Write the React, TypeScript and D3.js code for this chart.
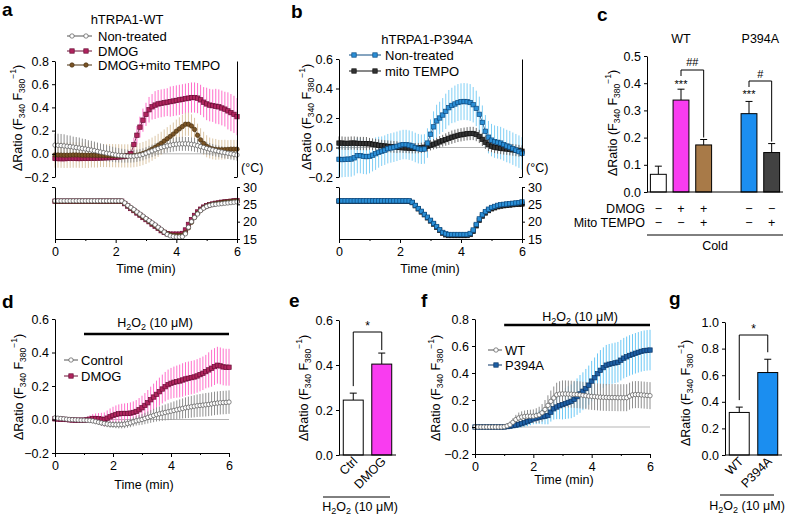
import React, { useEffect, useRef } from "react";
import * as d3 from "d3";

const FONT = "'Liberation Sans', Arial, Helvetica, sans-serif";

// ---------- axis ticks ----------
const TIME_TICKS = [0, 2, 4, 6];
const TIME_MINOR = [1, 3, 5];
const TEMP_TICKS = [15, 20, 25, 30];
const A_TICKS = [-0.2, 0, 0.2, 0.4, 0.6, 0.8];
const B_TICKS = [-0.2, 0, 0.2, 0.4, 0.6];
const C_TICKS = [0, 0.1, 0.2, 0.3, 0.4, 0.5];
const D_TICKS = [-0.2, 0, 0.2, 0.4, 0.6];
const E_TICKS = [0, 0.2, 0.4, 0.6];
const F_TICKS = [-0.2, 0, 0.2, 0.4, 0.6, 0.8];
const G_TICKS = [0, 0.2, 0.4, 0.6, 0.8, 1.0];

// ---------- panel a : hTRPA1-WT, cold (samples every 0.1 min, 0..6) ----------
const aNonTreated = [
  0.075, 0.073, 0.071, 0.068, 0.065, 0.062, 0.058, 0.054, 0.05, 0.046,
  0.042, 0.037, 0.032, 0.027, 0.021, 0.015, 0.01, 0.005, 0.0, -0.005,
  -0.01, -0.013, -0.016, -0.018, -0.02, -0.021, -0.02, -0.017, -0.012, -0.005,
  0.005, 0.015, 0.025, 0.035, 0.045, 0.055, 0.062, 0.068, 0.074, 0.079,
  0.083, 0.085, 0.086, 0.086, 0.085, 0.082, 0.077, 0.07, 0.062, 0.055,
  0.047, 0.04, 0.033, 0.027, 0.021, 0.015, 0.01, 0.005, 0.0, -0.005,
  -0.01,
];
const aNonTreatedErr = [
  0.1, 0.1, 0.1, 0.1, 0.095, 0.095, 0.09, 0.09, 0.09, 0.085,
  0.085, 0.08, 0.08, 0.078, 0.076, 0.074, 0.072, 0.07, 0.068, 0.066,
  0.064, 0.062, 0.06, 0.058, 0.056, 0.055, 0.054, 0.053, 0.052, 0.052,
  0.052, 0.053, 0.054, 0.055, 0.056, 0.057, 0.058, 0.059, 0.06, 0.06,
  0.06, 0.06, 0.06, 0.06, 0.06, 0.06, 0.06, 0.058, 0.056, 0.055,
  0.054, 0.053, 0.052, 0.051, 0.05, 0.05, 0.05, 0.05, 0.05, 0.05,
  0.05,
];
const aDmog = [
  -0.04, -0.041, -0.042, -0.042, -0.04, -0.038, -0.038, -0.04, -0.041, -0.04,
  -0.04, -0.039, -0.038, -0.038, -0.037, -0.036, -0.035, -0.034, -0.033, -0.031,
  -0.029, -0.027, -0.025, -0.023, -0.015, 0.0, 0.08, 0.16, 0.23, 0.29,
  0.34, 0.38, 0.405, 0.42, 0.43, 0.435, 0.44, 0.445, 0.45, 0.455,
  0.46, 0.465, 0.47, 0.475, 0.48, 0.485, 0.485, 0.48, 0.465, 0.445,
  0.43, 0.42, 0.415, 0.41, 0.405, 0.395, 0.385, 0.37, 0.355, 0.34,
  0.32,
];
const aDmogErr = [
  0.03, 0.03, 0.03, 0.03, 0.03, 0.03, 0.03, 0.03, 0.03, 0.03,
  0.03, 0.03, 0.03, 0.03, 0.03, 0.03, 0.03, 0.03, 0.03, 0.03,
  0.03, 0.03, 0.03, 0.03, 0.03, 0.04, 0.06, 0.08, 0.09, 0.1,
  0.1, 0.11, 0.11, 0.12, 0.12, 0.12, 0.12, 0.12, 0.13, 0.13,
  0.13, 0.13, 0.13, 0.13, 0.13, 0.13, 0.13, 0.13, 0.13, 0.13,
  0.14, 0.14, 0.14, 0.15, 0.15, 0.15, 0.15, 0.16, 0.16, 0.16,
  0.16,
];
const aDmogMito = [
  -0.01, -0.01, -0.011, -0.012, -0.012, -0.011, -0.01, -0.01, -0.011, -0.012,
  -0.012, -0.012, -0.013, -0.013, -0.014, -0.014, -0.015, -0.015, -0.016, -0.016,
  -0.017, -0.017, -0.018, -0.018, -0.018, -0.018, -0.016, -0.012, -0.006, 0.002,
  0.012, 0.025, 0.04, 0.055, 0.072, 0.09, 0.11, 0.13, 0.15, 0.17,
  0.195, 0.215, 0.235, 0.255, 0.255, 0.24, 0.21, 0.16, 0.12, 0.09,
  0.065, 0.05, 0.042, 0.038, 0.035, 0.035, 0.036, 0.038, 0.04, 0.04,
  0.04,
];
const aDmogMitoErr = [
  0.11, 0.11, 0.11, 0.11, 0.11, 0.11, 0.11, 0.11, 0.11, 0.11,
  0.11, 0.11, 0.105, 0.105, 0.105, 0.1, 0.1, 0.1, 0.1, 0.1,
  0.1, 0.1, 0.1, 0.1, 0.1, 0.1, 0.1, 0.1, 0.1, 0.1,
  0.1, 0.1, 0.1, 0.1, 0.1, 0.1, 0.1, 0.1, 0.1, 0.1,
  0.1, 0.1, 0.1, 0.1, 0.1, 0.1, 0.1, 0.1, 0.1, 0.1,
  0.095, 0.09, 0.09, 0.09, 0.085, 0.085, 0.085, 0.08, 0.08, 0.08,
  0.08,
];
const aTempNonTreated = [
  26.0, 26.0, 26.0, 26.0, 26.0, 26.0, 26.0, 26.0, 26.0, 26.0,
  26.0, 26.0, 26.0, 26.0, 26.0, 26.0, 26.0, 26.0, 26.0, 26.0,
  26.0, 26.0, 26.0, 25.4, 24.7, 24.1, 23.5, 22.8, 22.2, 21.6,
  20.9, 20.3, 19.7, 19.1, 18.4, 17.8, 17.0, 16.3, 15.9, 15.7,
  15.6, 15.6, 15.7, 16.5, 18.4, 20.0, 21.2, 22.2, 23.2, 23.9,
  24.4, 24.7, 24.9, 25.0, 25.1, 25.2, 25.3, 25.4, 25.5, 25.6,
  25.7,
];
const aTempDmog = [
  25.9, 25.9, 25.9, 25.9, 25.9, 25.9, 25.9, 25.9, 25.9, 25.9,
  25.9, 25.9, 25.9, 25.9, 25.9, 25.9, 25.9, 25.9, 25.9, 25.9,
  25.9, 25.9, 25.9, 25.2, 24.5, 23.8, 23.2, 22.5, 21.9, 21.2,
  20.6, 20.0, 19.3, 18.7, 18.1, 17.4, 16.9, 16.5, 16.4, 16.4,
  16.4, 16.4, 16.6, 17.6, 19.2, 20.6, 21.8, 22.8, 23.6, 24.2,
  24.6, 24.9, 25.1, 25.3, 25.4, 25.6, 25.7, 25.8, 25.9, 26.0,
  26.1,
];
const aTempDmogMito = [
  25.9, 25.9, 25.9, 25.9, 25.9, 25.9, 25.9, 25.9, 25.9, 25.9,
  25.9, 25.9, 25.9, 25.9, 25.9, 25.9, 25.9, 25.9, 25.9, 25.9,
  25.9, 25.9, 25.9, 25.3, 24.6, 24.0, 23.3, 22.7, 22.0, 21.4,
  20.8, 20.1, 19.5, 18.9, 18.2, 17.6, 17.0, 16.5, 16.2, 16.0,
  16.0, 16.0, 16.1, 16.8, 18.2, 19.8, 21.2, 22.4, 23.3, 24.0,
  24.5, 24.8, 25.0, 25.2, 25.3, 25.5, 25.6, 25.7, 25.8, 25.9,
  26.0,
];

// ---------- panel b : hTRPA1-P394A, cold ----------
const bNonTreated = [
  -0.08, -0.082, -0.08, -0.079, -0.078, -0.07, -0.055, -0.055, -0.06, -0.062,
  -0.06, -0.052, -0.042, -0.032, -0.025, -0.018, -0.008, -0.003, 0.002, 0.008,
  0.015, 0.02, 0.02, 0.016, 0.01, 0.0, -0.008, -0.012, -0.01, 0.03,
  0.09, 0.14, 0.18, 0.2, 0.22, 0.245, 0.27, 0.285, 0.295, 0.305,
  0.31, 0.312, 0.31, 0.305, 0.29, 0.265, 0.225, 0.17, 0.11, 0.07,
  0.05, 0.04, 0.035, 0.03, 0.02, 0.01, 0.003, -0.008, -0.018, -0.028,
  -0.04,
];
const bNonTreatedErr = [
  0.12, 0.12, 0.12, 0.12, 0.12, 0.12, 0.12, 0.12, 0.12, 0.12,
  0.115, 0.11, 0.11, 0.105, 0.1, 0.1, 0.1, 0.1, 0.1, 0.1,
  0.1, 0.1, 0.1, 0.1, 0.1, 0.1, 0.1, 0.1, 0.1, 0.1,
  0.1, 0.105, 0.11, 0.11, 0.115, 0.12, 0.12, 0.12, 0.125, 0.125,
  0.125, 0.125, 0.125, 0.125, 0.12, 0.12, 0.12, 0.115, 0.11, 0.11,
  0.11, 0.11, 0.11, 0.11, 0.11, 0.11, 0.11, 0.11, 0.11, 0.11,
  0.11,
];
const bMito = [
  0.03, 0.03, 0.028, 0.028, 0.03, 0.03, 0.028, 0.027, 0.027, 0.026,
  0.025, 0.022, 0.018, 0.015, 0.012, 0.01, 0.008, 0.006, 0.004, 0.002,
  0.0, -0.002, -0.003, -0.004, -0.005, -0.005, -0.004, -0.002, 0.002, 0.008,
  0.015, 0.022, 0.03, 0.038, 0.046, 0.054, 0.062, 0.07, 0.076, 0.082,
  0.086, 0.09, 0.093, 0.095, 0.095, 0.088, 0.075, 0.055, 0.035, 0.02,
  0.008, 0.002, -0.002, -0.005, -0.008, -0.01, -0.013, -0.016, -0.019, -0.022,
  -0.025,
];
const bMitoErr = [
  0.045, 0.045, 0.045, 0.045, 0.045, 0.045, 0.045, 0.045, 0.045, 0.045,
  0.04, 0.04, 0.04, 0.04, 0.04, 0.04, 0.04, 0.04, 0.04, 0.04,
  0.035, 0.035, 0.035, 0.035, 0.035, 0.035, 0.035, 0.035, 0.035, 0.035,
  0.035, 0.035, 0.038, 0.04, 0.04, 0.042, 0.044, 0.045, 0.045, 0.045,
  0.045, 0.045, 0.045, 0.045, 0.045, 0.045, 0.045, 0.045, 0.045, 0.045,
  0.04, 0.04, 0.04, 0.04, 0.04, 0.04, 0.04, 0.04, 0.04, 0.04,
  0.04,
];
const bTempNonTreated = [
  26.0, 26.0, 26.0, 26.0, 26.0, 26.0, 26.0, 26.0, 26.0, 26.0,
  26.0, 26.0, 26.0, 26.0, 26.0, 26.0, 26.0, 26.0, 26.0, 26.0,
  26.0, 26.0, 26.0, 26.0, 25.6, 24.7, 23.8, 23.0, 22.1, 21.3,
  20.4, 19.5, 18.6, 17.7, 16.9, 16.5, 16.3, 16.3, 16.3, 16.3,
  16.3, 16.3, 16.3, 16.6, 17.6, 19.2, 20.8, 22.0, 22.9, 23.6,
  24.1, 24.4, 24.7, 24.9, 25.0, 25.1, 25.2, 25.3, 25.4, 25.5,
  25.7,
];
const bTempMito = [
  25.9, 25.9, 25.9, 25.9, 25.9, 25.9, 25.9, 25.9, 25.9, 25.9,
  25.9, 25.9, 25.9, 25.9, 25.9, 25.9, 25.9, 25.9, 25.9, 25.9,
  25.9, 25.9, 25.9, 25.9, 25.5, 24.6, 23.7, 22.8, 22.0, 21.1,
  20.2, 19.3, 18.4, 17.5, 16.7, 16.2, 16.0, 16.0, 16.0, 16.0,
  16.0, 16.0, 16.0, 16.3, 17.2, 18.8, 20.4, 21.6, 22.5, 23.2,
  23.7, 24.0, 24.3, 24.5, 24.6, 24.7, 24.8, 24.9, 25.0, 25.0,
  25.1,
];

// ---------- panel c : cold responses ----------
const cSlots = ["wt-ctrl", "wt-dmog", "wt-dmog-mito", "gap", "p-ctrl", "p-mito"];
const cCats = ["wt-ctrl", "wt-dmog", "wt-dmog-mito", "p-ctrl", "p-mito"];
const cMeans = [0.065, 0.338, 0.173, 0.288, 0.145];
const cErrs = [0.03, 0.04, 0.02, 0.045, 0.033];
const cColors = ["#ffffff", "#f93cf0", "#a87a48", "#1b8ef0", "#424242"];
const cDmogRow = ["−", "+", "+", "−", "−"];
const cMitoRow = ["−", "−", "+", "−", "+"];

// ---------- panel d : H2O2, WT ----------
const dControl = [
  0.01, 0.008, 0.006, 0.004, 0.002, 0.0, -0.001, -0.002, -0.003, -0.004,
  -0.004, -0.005, -0.006, -0.008, -0.012, -0.016, -0.02, -0.024, -0.027, -0.029,
  -0.03, -0.031, -0.031, -0.03, -0.028, -0.024, -0.02, -0.014, -0.008, -0.004,
  0.0, 0.006, 0.012, 0.018, 0.024, 0.03, 0.034, 0.038, 0.042, 0.046,
  0.05, 0.054, 0.058, 0.062, 0.066, 0.07, 0.073, 0.076, 0.079, 0.082,
  0.084, 0.086, 0.088, 0.09, 0.093, 0.096, 0.098, 0.1, 0.101, 0.102,
  0.104,
];
const dControlErr = [
  0.012, 0.012, 0.012, 0.012, 0.012, 0.012, 0.012, 0.012, 0.012, 0.012,
  0.012, 0.013, 0.014, 0.015, 0.016, 0.017, 0.018, 0.018, 0.019, 0.02,
  0.02, 0.021, 0.022, 0.023, 0.024, 0.025, 0.026, 0.027, 0.028, 0.03,
  0.032, 0.034, 0.036, 0.038, 0.04, 0.042, 0.044, 0.046, 0.048, 0.05,
  0.052, 0.054, 0.056, 0.058, 0.06, 0.062, 0.064, 0.065, 0.066, 0.067,
  0.068, 0.069, 0.07, 0.07, 0.07, 0.07, 0.07, 0.07, 0.07, 0.07,
  0.07,
];
const dDmog = [
  0.004, 0.003, 0.002, 0.001, 0.0, -0.002, -0.003, -0.004, -0.004, -0.004,
  -0.004, -0.002, 0.002, 0.006, 0.006, 0.004, 0.002, 0.0, 0.008, 0.016,
  0.024, 0.03, 0.034, 0.036, 0.036, 0.036, 0.038, 0.042, 0.048, 0.058,
  0.07, 0.084, 0.1, 0.118, 0.134, 0.15, 0.166, 0.182, 0.196, 0.208,
  0.216, 0.222, 0.226, 0.23, 0.236, 0.242, 0.246, 0.25, 0.254, 0.26,
  0.268, 0.276, 0.286, 0.296, 0.306, 0.316, 0.324, 0.32, 0.314, 0.312,
  0.312,
];
const dDmogErr = [
  0.015, 0.015, 0.015, 0.015, 0.015, 0.015, 0.015, 0.015, 0.015, 0.015,
  0.015, 0.018, 0.022, 0.026, 0.03, 0.034, 0.038, 0.042, 0.046, 0.05,
  0.052, 0.054, 0.056, 0.058, 0.06, 0.062, 0.064, 0.066, 0.068, 0.07,
  0.072, 0.074, 0.076, 0.078, 0.08, 0.082, 0.084, 0.086, 0.088, 0.09,
  0.092, 0.094, 0.096, 0.098, 0.1, 0.1, 0.1, 0.1, 0.1, 0.1,
  0.1, 0.1, 0.1, 0.105, 0.11, 0.11, 0.11, 0.11, 0.11, 0.11,
  0.11,
];

// ---------- panel e ----------
const eCats = ["Ctrl", "DMOG"];
const eMeans = [0.244, 0.404];
const eErrs = [0.031, 0.049];
const eColors = ["#ffffff", "#f93cf0"];

// ---------- panel f : H2O2, WT vs P394A ----------
const fWt = [
  0, 0, 0, 0, 0, 0, 0, 0, 0, 0,
  0.002, 0.008, 0.017, 0.035, 0.055, 0.067, 0.074, 0.078, 0.08, 0.08,
  0.08, 0.084, 0.09, 0.105, 0.13, 0.16, 0.19, 0.215, 0.238, 0.244,
  0.245, 0.245, 0.244, 0.243, 0.242, 0.24, 0.238, 0.235, 0.232, 0.229,
  0.227, 0.225, 0.223, 0.221, 0.22, 0.219, 0.218, 0.218, 0.218, 0.217,
  0.217, 0.217, 0.217, 0.228, 0.238, 0.24, 0.24, 0.238, 0.236, 0.234,
  0.232,
];
const fWtErr = [
  0.015, 0.015, 0.015, 0.015, 0.015, 0.015, 0.015, 0.015, 0.015, 0.015,
  0.016, 0.02, 0.025, 0.03, 0.035, 0.04, 0.042, 0.044, 0.046, 0.048,
  0.05, 0.055, 0.06, 0.065, 0.07, 0.075, 0.08, 0.085, 0.09, 0.095,
  0.1, 0.1, 0.1, 0.1, 0.1, 0.1, 0.1, 0.1, 0.1, 0.1,
  0.1, 0.1, 0.1, 0.1, 0.1, 0.1, 0.1, 0.1, 0.1, 0.1,
  0.1, 0.1, 0.1, 0.1, 0.1, 0.1, 0.1, 0.1, 0.1, 0.1,
  0.1,
];
const fP394A = [
  0, 0, 0, 0, 0, 0, 0, 0, 0, 0,
  0.0, 0.003, 0.006, 0.01, 0.014, 0.018, 0.025, 0.032, 0.04, 0.05,
  0.06, 0.066, 0.072, 0.076, 0.08, 0.085, 0.11, 0.135, 0.148, 0.158,
  0.166, 0.174, 0.182, 0.19, 0.205, 0.225, 0.245, 0.265, 0.285, 0.31,
  0.34, 0.365, 0.395, 0.42, 0.44, 0.458, 0.465, 0.47, 0.475, 0.48,
  0.495, 0.51, 0.52, 0.53, 0.538, 0.546, 0.553, 0.56, 0.565, 0.568,
  0.57,
];
const fP394AErr = [
  0.015, 0.015, 0.015, 0.015, 0.015, 0.015, 0.015, 0.015, 0.015, 0.015,
  0.015, 0.016, 0.018, 0.02, 0.022, 0.025, 0.028, 0.031, 0.034, 0.037,
  0.04, 0.045, 0.05, 0.055, 0.06, 0.065, 0.07, 0.08, 0.09, 0.1,
  0.11, 0.115, 0.12, 0.125, 0.13, 0.135, 0.14, 0.14, 0.145, 0.145,
  0.15, 0.15, 0.15, 0.15, 0.15, 0.15, 0.15, 0.15, 0.15, 0.15,
  0.15, 0.15, 0.15, 0.15, 0.15, 0.15, 0.15, 0.15, 0.15, 0.15,
  0.15,
];

// ---------- panel g ----------
const gCats = ["WT", "P394A"];
const gMeans = [0.32, 0.62];
const gErrs = [0.04, 0.1];
const gColors = ["#ffffff", "#1b8ef0"];

// ---------- trace styles ----------
const ST_WHITE = { shape: "circle", fill: "#ffffff", stroke: "#555555", err: "#8f8f8f" };
const ST_PINK = { shape: "square", fill: "#b0245e", stroke: "#6a0e35", err: "#ff6fca" };
const ST_BROWN = { shape: "circle", fill: "#7a5426", stroke: "#4a3010", err: "#dcc6a6" };
const ST_BLUE = { shape: "square", fill: "#2b8fd6", stroke: "#0c4a80", err: "#80cff5" };
const ST_BLACK = { shape: "square", fill: "#333333", stroke: "#111111", err: "#6a6a6a" };
const ST_DBLUE = { shape: "square", fill: "#1d5fa5", stroke: "#0b3566", err: "#6cc8f5" };

const TXT = 12.5; // general label size
const LEG = 13; // legend / title size

const toPoints = (values: number[], errors?: number[]) =>
  values.map((v, i) => ({ t: (i * 6) / (values.length - 1), v, e: errors ? errors[i] : 0 }));

function drawErrors(g: any, x: any, y: any, values: number[], errors: number[], st: any) {
  g.append("g")
    .selectAll("line")
    .data(toPoints(values, errors))
    .join("line")
    .attr("x1", (d: any) => x(d.t))
    .attr("x2", (d: any) => x(d.t))
    .attr("y1", (d: any) => y(d.v - d.e))
    .attr("y2", (d: any) => y(d.v + d.e))
    .attr("stroke", st.err)
    .attr("stroke-width", 1);
}

function marker(g: any, cx: number, cy: number, st: any) {
  if (st.shape === "circle") {
    g.append("circle").attr("cx", cx).attr("cy", cy).attr("r", 2.2)
      .attr("fill", st.fill).attr("stroke", st.stroke).attr("stroke-width", 0.7);
  } else {
    g.append("rect").attr("x", cx - 2.2).attr("y", cy - 2.2).attr("width", 4.4).attr("height", 4.4)
      .attr("fill", st.fill).attr("stroke", st.stroke).attr("stroke-width", 0.7);
  }
}

function drawTrace(g: any, x: any, y: any, values: number[], st: any) {
  const pts = toPoints(values);
  g.append("path")
    .datum(pts)
    .attr("d", d3.line<any>().x((d) => x(d.t)).y((d) => y(d.v)))
    .attr("fill", "none")
    .attr("stroke", st.stroke)
    .attr("stroke-width", 0.8);
  const mg = g.append("g");
  pts.forEach((d) => marker(mg, x(d.t), y(d.v), st));
}

function styleAxis(a: any, size = TXT) {
  a.attr("font-size", size).attr("font-family", FONT);
  a.selectAll("line").attr("stroke", "#000");
  a.select(".domain").attr("stroke", "#000");
}

function leftAxis(g: any, y: any, xPos: number, ticks: number[]) {
  const a = g.append("g").attr("transform", `translate(${xPos},0)`)
    .call(d3.axisLeft(y).tickValues(ticks).tickFormat(d3.format(".1f")).tickSize(3).tickPadding(3).tickSizeOuter(0));
  styleAxis(a);
}

function timeAxis(g: any, x: any, yPos: number) {
  const a = g.append("g").attr("transform", `translate(0,${yPos})`)
    .call(d3.axisBottom(x).tickValues(TIME_TICKS).tickFormat(d3.format("d")).tickSize(4).tickPadding(4).tickSizeOuter(0));
  styleAxis(a);
  const m = g.append("g").attr("transform", `translate(0,${yPos})`)
    .call(d3.axisBottom(x).tickValues(TIME_MINOR).tickFormat(() => "").tickSize(2).tickSizeOuter(0));
  m.select(".domain").remove();
  m.selectAll("line").attr("stroke", "#000");
}

function text(g: any, x: number, y: number, s: string, size = TXT, anchor = "start", weight = "normal") {
  return g.append("text").attr("x", x).attr("y", y).attr("font-size", size)
    .attr("text-anchor", anchor).attr("font-weight", weight).attr("fill", "#000").text(s);
}

function yLabel(g: any, x: number, y: number) {
  const t = g.append("text").attr("transform", `translate(${x},${y}) rotate(-90)`)
    .attr("text-anchor", "middle").attr("font-size", 12.5).attr("fill", "#000");
  t.append("tspan").text("ΔRatio (F");
  t.append("tspan").attr("dy", 3).attr("font-size", 8.5).text("340");
  t.append("tspan").attr("dy", -3).text(" F");
  t.append("tspan").attr("dy", 3).attr("font-size", 8.5).text("380");
  t.append("tspan").attr("dy", -9).attr("font-size", 8.5).text("−1");
  t.append("tspan").attr("dy", 6).text(")");
}

function h2o2(g: any, x: number, y: number) {
  const t = g.append("text").attr("x", x).attr("y", y).attr("text-anchor", "middle")
    .attr("font-size", TXT).attr("fill", "#000");
  t.append("tspan").text("H");
  t.append("tspan").attr("dy", 3).attr("font-size", 9).text("2");
  t.append("tspan").attr("dy", -3).text("O");
  t.append("tspan").attr("dy", 3).attr("font-size", 9).text("2");
  t.append("tspan").attr("dy", -3).text(" (10 μM)");
}

function legendRow(g: any, x1: number, x2: number, marks: number[], y: number, st: any, label: string, tx: number) {
  g.append("line").attr("x1", x1).attr("x2", x2).attr("y1", y).attr("y2", y)
    .attr("stroke", st.stroke).attr("stroke-width", 1);
  marks.forEach((mx) => marker(g, mx, y, st));
  text(g, tx, y + 4.6, label, LEG);
}

function zeroLine(g: any, x: any, y: any) {
  g.append("line").attr("x1", x(0)).attr("x2", x(6)).attr("y1", y(0)).attr("y2", y(0))
    .attr("stroke", "#b5b5b5").attr("stroke-width", 1);
}

function barPanel(g: any, xb: any, y: any, cats: string[], means: number[], errs: number[], colors: string[]) {
  cats.forEach((c, i) => {
    const cx = xb(c) + xb.bandwidth() / 2;
    g.append("line").attr("x1", cx).attr("x2", cx).attr("y1", y(means[i])).attr("y2", y(means[i] + errs[i]))
      .attr("stroke", "#000").attr("stroke-width", 1);
    g.append("line").attr("x1", cx - 3.5).attr("x2", cx + 3.5)
      .attr("y1", y(means[i] + errs[i])).attr("y2", y(means[i] + errs[i]))
      .attr("stroke", "#000").attr("stroke-width", 1);
    g.append("rect").attr("x", xb(c)).attr("y", y(means[i])).attr("width", xb.bandwidth())
      .attr("height", y(0) - y(means[i])).attr("fill", colors[i]).attr("stroke", "#000").attr("stroke-width", 1);
  });
  const [r0, r1] = xb.range();
  g.append("line").attr("x1", r0).attr("x2", r1).attr("y1", y(0)).attr("y2", y(0))
    .attr("stroke", "#000").attr("stroke-width", 1);
}

function bracket(g: any, x1: number, x2: number, yTop: number, y1: number, y2: number) {
  g.append("path").attr("d", `M${x1},${y1}V${yTop}H${x2}V${y2}`)
    .attr("fill", "none").attr("stroke", "#000").attr("stroke-width", 1);
}

export default function App() {
  const ref = useRef<SVGSVGElement>(null);

  useEffect(() => {
    const svg = d3.select(ref.current);
    svg.selectAll("*").remove();

    // ================= panel a =================
    {
      const g = svg.append("g");
      const x = d3.scaleLinear().domain([0, 6]).range([55, 237]);
      const y = d3.scaleLinear().domain([-0.2, 0.8]).range([177, 61]);
      const yt = d3.scaleLinear().domain([15, 30]).range([239, 187]);
      zeroLine(g, x, y);
      drawErrors(g, x, y, aDmog, aDmogErr, ST_PINK);
      drawErrors(g, x, y, aDmogMito, aDmogMitoErr, ST_BROWN);
      drawErrors(g, x, y, aNonTreated, aNonTreatedErr, ST_WHITE);
      drawTrace(g, x, y, aDmog, ST_PINK);
      drawTrace(g, x, y, aDmogMito, ST_BROWN);
      drawTrace(g, x, y, aNonTreated, ST_WHITE);
      leftAxis(g, y, 55, A_TICKS);
      const r = g.append("g").attr("transform", "translate(237,0)")
        .call(d3.axisRight(y).tickValues([-0.2]).tickFormat(() => "").tickSize(-3).tickSizeOuter(0));
      styleAxis(r);
      drawTrace(g, x, yt, aTempDmog, ST_PINK);
      drawTrace(g, x, yt, aTempDmogMito, ST_BROWN);
      drawTrace(g, x, yt, aTempNonTreated, ST_WHITE);
      const tl = g.append("g").attr("transform", "translate(55,0)")
        .call(d3.axisLeft(yt).tickValues([30]).tickFormat(() => "").tickSize(3).tickSizeOuter(0));
      styleAxis(tl);
      const tr = g.append("g").attr("transform", "translate(237,0)")
        .call(d3.axisRight(yt).tickValues(TEMP_TICKS).tickFormat(d3.format("d")).tickSize(3).tickPadding(3).tickSizeOuter(0));
      styleAxis(tr);
      timeAxis(g, x, 239);
      text(g, 241, 172, "(°C)", TXT);
      text(g, 146, 273, "Time (min)", TXT, "middle");
      yLabel(g, 22, 118);
      text(g, 127, 24, "hTRPA1-WT", LEG, "middle");
      legendRow(g, 67, 92, [72, 86], 36, ST_WHITE, "Non-treated", 98);
      legendRow(g, 67, 92, [72, 86], 51, ST_PINK, "DMOG", 98);
      legendRow(g, 67, 92, [72, 86], 65, ST_BROWN, "DMOG+mito TEMPO", 98);
      text(g, 2, 16, "a", 19, "start", "bold");
    }

    // ================= panel b =================
    {
      const g = svg.append("g");
      const x = d3.scaleLinear().domain([0, 6]).range([339, 522]);
      const y = d3.scaleLinear().domain([-0.2, 0.6]).range([177, 59]);
      const yt = d3.scaleLinear().domain([15, 30]).range([239, 187]);
      zeroLine(g, x, y);
      drawErrors(g, x, y, bNonTreated, bNonTreatedErr, ST_BLUE);
      drawErrors(g, x, y, bMito, bMitoErr, ST_BLACK);
      drawTrace(g, x, y, bMito, ST_BLACK);
      drawTrace(g, x, y, bNonTreated, ST_BLUE);
      leftAxis(g, y, 339, B_TICKS);
      const r = g.append("g").attr("transform", "translate(522,0)")
        .call(d3.axisRight(y).tickValues([-0.2]).tickFormat(() => "").tickSize(-3).tickSizeOuter(0));
      styleAxis(r);
      drawTrace(g, x, yt, bTempMito, ST_BLACK);
      drawTrace(g, x, yt, bTempNonTreated, ST_BLUE);
      const tl = g.append("g").attr("transform", "translate(339,0)")
        .call(d3.axisLeft(yt).tickValues([30]).tickFormat(() => "").tickSize(3).tickSizeOuter(0));
      styleAxis(tl);
      const tr = g.append("g").attr("transform", "translate(522,0)")
        .call(d3.axisRight(yt).tickValues(TEMP_TICKS).tickFormat(d3.format("d")).tickSize(3).tickPadding(3).tickSizeOuter(0));
      styleAxis(tr);
      timeAxis(g, x, 239);
      text(g, 526, 172, "(°C)", TXT);
      text(g, 430, 273, "Time (min)", TXT, "middle");
      yLabel(g, 311, 117);
      text(g, 427, 44, "hTRPA1-P394A", LEG, "middle");
      legendRow(g, 349, 381, [354, 375], 55, ST_BLUE, "Non-treated", 385);
      legendRow(g, 349, 381, [354, 375], 71, ST_BLACK, "mito TEMPO", 385);
      text(g, 291, 18, "b", 19, "start", "bold");
    }

    // ================= panel c =================
    {
      const g = svg.append("g");
      const xb = d3.scaleBand().domain(cSlots).range([647, 783]).paddingInner(0.3).paddingOuter(0.15);
      const y = d3.scaleLinear().domain([0, 0.5]).range([192, 56]);
      barPanel(g, xb, y, cCats, cMeans, cErrs, cColors);
      leftAxis(g, y, 647, C_TICKS);
      const cx = (c: string) => (xb(c) as number) + xb.bandwidth() / 2;
      cCats.forEach((c, i) => {
        text(g, cx(c), 213, cDmogRow[i], TXT, "middle");
        text(g, cx(c), 227, cMitoRow[i], TXT, "middle");
      });
      text(g, 645, 213, "DMOG", TXT, "end");
      text(g, 645, 227, "Mito TEMPO", TXT, "end");
      g.append("line").attr("x1", 647).attr("x2", 783).attr("y1", 235).attr("y2", 235)
        .attr("stroke", "#000").attr("stroke-width", 1);
      text(g, 715, 250, "Cold", TXT, "middle");
      text(g, cx("wt-dmog"), 43, "WT", TXT, "middle");
      text(g, (cx("p-ctrl") + cx("p-mito")) / 2, 43, "P394A", TXT, "middle");
      // significance marks
      text(g, cx("wt-dmog"), 88, "***", 11, "middle");
      text(g, cx("p-ctrl"), 98, "***", 11, "middle");
      bracket(g, cx("wt-dmog"), cx("wt-dmog-mito"), 70, 76, y(cMeans[2] + cErrs[2]) - 2);
      text(g, (cx("wt-dmog") + cx("wt-dmog-mito")) / 2, 66, "##", 11, "middle");
      bracket(g, cx("p-ctrl"), cx("p-mito"), 81, 87, y(cMeans[4] + cErrs[4]) - 2);
      text(g, (cx("p-ctrl") + cx("p-mito")) / 2, 78, "#", 11, "middle");
      yLabel(g, 617, 123);
      text(g, 597, 21, "c", 19, "start", "bold");
    }

    // ================= panel d =================
    {
      const g = svg.append("g");
      const x = d3.scaleLinear().domain([0, 6]).range([55, 229]);
      const y = d3.scaleLinear().domain([-0.2, 0.6]).range([453, 319]);
      zeroLine(g, x, y);
      drawErrors(g, x, y, dDmog, dDmogErr, ST_PINK);
      drawErrors(g, x, y, dControl, dControlErr, ST_WHITE);
      drawTrace(g, x, y, dDmog, ST_PINK);
      drawTrace(g, x, y, dControl, ST_WHITE);
      leftAxis(g, y, 55, D_TICKS);
      timeAxis(g, x, 453);
      g.append("line").attr("x1", x(1)).attr("x2", x(6)).attr("y1", 334).attr("y2", 334)
        .attr("stroke", "#000").attr("stroke-width", 2.5);
      h2o2(g, 155, 327);
      legendRow(g, 64, 78, [71], 360, ST_WHITE, "Control", 81);
      legendRow(g, 64, 78, [71], 376, ST_PINK, "DMOG", 81);
      text(g, 144, 489, "Time (min)", TXT, "middle");
      yLabel(g, 23, 387);
      text(g, 2, 308, "d", 19, "start", "bold");
    }

    // ================= panel e =================
    {
      const g = svg.append("g");
      const xb = d3.scaleBand().domain(eCats).range([339, 396]).paddingInner(0.3).paddingOuter(0.15);
      const y = d3.scaleLinear().domain([0, 0.6]).range([455, 320]);
      barPanel(g, xb, y, eCats, eMeans, eErrs, eColors);
      leftAxis(g, y, 339, E_TICKS);
      const cx = (c: string) => (xb(c) as number) + xb.bandwidth() / 2;
      eCats.forEach((c) => {
        g.append("text").attr("transform", `translate(${cx(c) + 5},462) rotate(-45)`)
          .attr("text-anchor", "end").attr("font-size", TXT).attr("fill", "#000").text(c);
      });
      bracket(g, cx("Ctrl"), cx("DMOG"), 332, y(eMeans[0] + eErrs[0]) - 7, y(eMeans[1] + eErrs[1]) - 3);
      text(g, (cx("Ctrl") + cx("DMOG")) / 2, 330, "*", 12, "middle");
      g.append("line").attr("x1", 323).attr("x2", 390).attr("y1", 497).attr("y2", 497)
        .attr("stroke", "#000").attr("stroke-width", 1);
      h2o2(g, 360, 511);
      yLabel(g, 308, 388);
      text(g, 289, 307, "e", 19, "start", "bold");
    }

    // ================= panel f =================
    {
      const g = svg.append("g");
      const x = d3.scaleLinear().domain([0, 6]).range([475, 650]);
      const y = d3.scaleLinear().domain([-0.2, 0.8]).range([454, 319]);
      zeroLine(g, x, y);
      drawErrors(g, x, y, fP394A, fP394AErr, ST_DBLUE);
      drawErrors(g, x, y, fWt, fWtErr, ST_WHITE);
      drawTrace(g, x, y, fP394A, ST_DBLUE);
      drawTrace(g, x, y, fWt, ST_WHITE);
      leftAxis(g, y, 475, F_TICKS);
      timeAxis(g, x, 454);
      g.append("line").attr("x1", x(1)).attr("x2", x(6)).attr("y1", 325).attr("y2", 325)
        .attr("stroke", "#000").attr("stroke-width", 2.5);
      h2o2(g, 580, 321);
      legendRow(g, 488, 502, [496], 350, ST_WHITE, "WT", 505);
      legendRow(g, 488, 502, [496], 365, ST_DBLUE, "P394A", 505);
      text(g, 564, 484, "Time (min)", TXT, "middle");
      yLabel(g, 440, 388);
      text(g, 421, 307, "f", 19, "start", "bold");
    }

    // ================= panel g =================
    {
      const g = svg.append("g");
      const xb = d3.scaleBand().domain(gCats).range([725, 782]).paddingInner(0.3).paddingOuter(0.15);
      const y = d3.scaleLinear().domain([0, 1]).range([455, 322]);
      barPanel(g, xb, y, gCats, gMeans, gErrs, gColors);
      leftAxis(g, y, 725, G_TICKS);
      const cx = (c: string) => (xb(c) as number) + xb.bandwidth() / 2;
      gCats.forEach((c) => {
        g.append("text").attr("transform", `translate(${cx(c) + 5},462) rotate(-45)`)
          .attr("text-anchor", "end").attr("font-size", TXT).attr("fill", "#000").text(c);
      });
      bracket(g, cx("WT"), cx("P394A"), 335, y(gMeans[0] + gErrs[0]) - 7, y(gMeans[1] + gErrs[1]) - 7);
      text(g, (cx("WT") + cx("P394A")) / 2, 333, "*", 12, "middle");
      g.append("line").attr("x1", 720).attr("x2", 774).attr("y1", 495).attr("y2", 495)
        .attr("stroke", "#000").attr("stroke-width", 1);
      h2o2(g, 747, 510);
      yLabel(g, 690, 393);
      text(g, 669, 305, "g", 19, "start", "bold");
    }
  }, []);

  return (
    <svg
      ref={ref}
      width={788}
      height={519}
      fontFamily={FONT}
      style={{ position: "absolute", left: 0, top: 0, background: "#ffffff" }}
    />
  );
}
